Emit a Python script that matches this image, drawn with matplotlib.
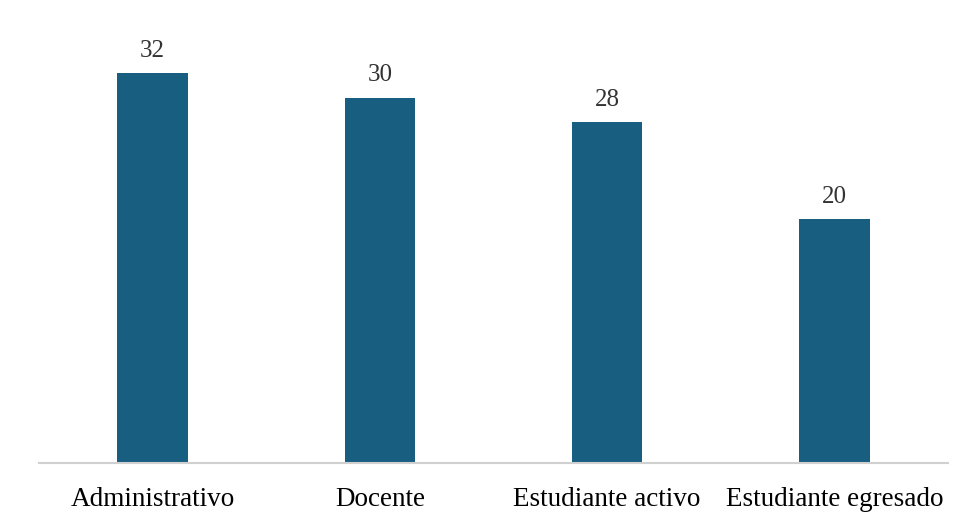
import matplotlib.pyplot as plt

# Datos
categorias = ['Administrativo', 'Docente', 'Estudiante activo', 'Estudiante egresado']
valores = [32, 30, 28, 20]

plt.rcParams['font.family'] = ['Liberation Serif', 'DejaVu Serif']

fig = plt.figure(figsize=(9.64, 5.2), dpi=100)
ax = fig.add_axes([39 / 964, 1 - 463 / 520, 909 / 964, 0.82])

x = range(len(categorias))
barras = ax.bar(x, valores, width=0.31, color='#175e80')

# Etiquetas de valor sobre las barras
ax.bar_label(barras, labels=[str(v) for v in valores], padding=8,
             fontsize=18, color='#333333')

ax.set_xlim(-0.5, len(categorias) - 0.5)
ax.set_ylim(0, 35)
ax.set_xticks(list(x))
ax.set_xticklabels(categorias, fontsize=19.5, color='black')
ax.tick_params(axis='x', length=0, pad=17)
ax.set_yticks([])

for lado in ['top', 'right', 'left']:
    ax.spines[lado].set_visible(False)
ax.spines['bottom'].set_color('#d0d0d0')
ax.spines['bottom'].set_linewidth(1.5)

fig.savefig('out.png', dpi=100, facecolor='white')
